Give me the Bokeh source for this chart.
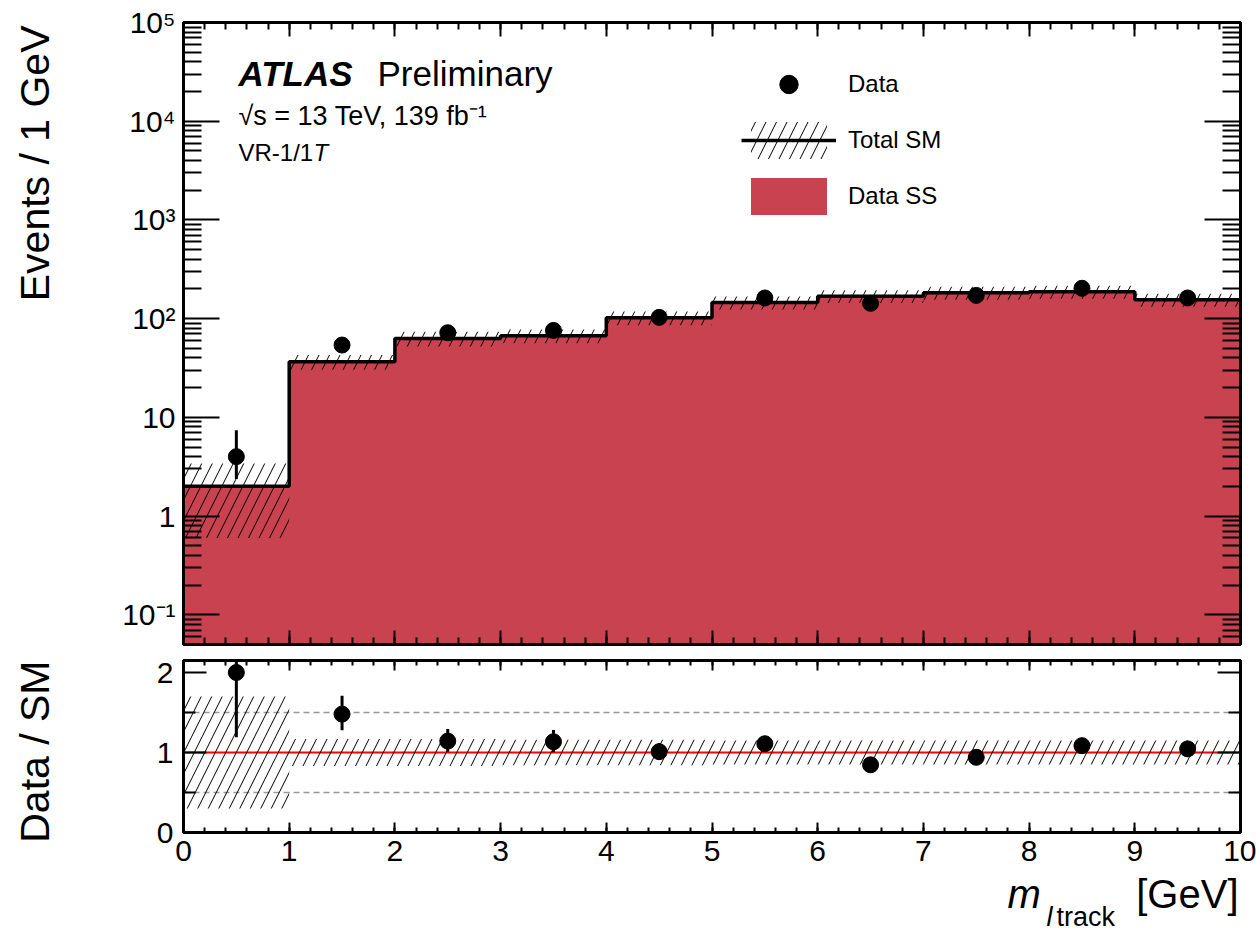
import math
from bokeh.plotting import figure
from bokeh.layouts import column, row
from bokeh.models import (FixedTicker, LinearAxis, LogAxis, Label, Legend, LegendItem,
                          CustomJSTickFormatter, Range1d, Span)
from bokeh.embed import file_html
from bokeh.resources import INLINE

# ---------------- data ----------------
bin_edges = [0, 1, 2, 3, 4, 5, 6, 7, 8, 9, 10]
bin_centers = [0.5, 1.5, 2.5, 3.5, 4.5, 5.5, 6.5, 7.5, 8.5, 9.5]
sm_total = [2.0, 36.5, 63.0, 67.0, 102.0, 146.0, 169.0, 183.0, 187.0, 155.0]
sm_rel_unc = [0.70, 0.17, 0.17, 0.16, 0.16, 0.15, 0.15, 0.15, 0.15, 0.15]
data_counts = [4, 54, 72, 76, 103, 162, 143, 172, 203, 162]
data_err_up = [3.4, 8.4, 9.5, 9.8, 11.2, 13.7, 13.0, 14.2, 15.3, 13.7]
data_err_dn = [1.62, 7.3, 8.4, 8.7, 10.1, 12.7, 11.9, 13.1, 14.3, 12.7]

y_major = [1e-1, 1.0, 10.0, 1e2, 1e3, 1e4, 1e5]
y_major_labels = ["10\u207b\u00b9", "1", "10", "10\u00b2", "10\u00b3", "10\u2074", "10\u2075"]
x_major = [0, 1, 2, 3, 4, 5, 6, 7, 8, 9, 10]
ratio_major = [0, 1, 2]
ratio_minor = [0.5, 1.5]
ratio_ref_dashed = [0.5, 1.5]
ratio_ref_unity = 1.0
hist_floor = 1e-3

# derived
x_minor = [i / 5 for i in range(0, 51)]
y_minor = [m * 10.0 ** e for e in range(-2, 5) for m in range(2, 10)]
step_x, step_y = [], []
for i, v in enumerate(sm_total):
    step_x += [bin_edges[i], bin_edges[i + 1]]
    step_y += [v, v]
fill_x = [bin_edges[0]] + step_x + [bin_edges[-1]]
fill_y = [hist_floor] + step_y + [hist_floor]
band_lo = [s * (1 - u) for s, u in zip(sm_total, sm_rel_unc)]
band_hi = [s * (1 + u) for s, u in zip(sm_total, sm_rel_unc)]
data_lo = [d - e for d, e in zip(data_counts, data_err_dn)]
data_hi = [d + e for d, e in zip(data_counts, data_err_up)]
ratio = [d / s for d, s in zip(data_counts, sm_total)]
ratio_lo = [r - e / s for r, e, s in zip(ratio, data_err_dn, sm_total)]
ratio_hi = [r + e / s for r, e, s in zip(ratio, data_err_up, sm_total)]
rband_lo = [1 - u for u in sm_rel_unc]
rband_hi = [1 + u for u in sm_rel_unc]

FONT = "Liberation Sans"
RED = "#c9424f"
HATCH = dict(fill_alpha=0, line_alpha=0, hatch_pattern="/", hatch_color="black",
             hatch_weight=1, hatch_scale=21)
STRIP_W = 70
LEFT = 183 - STRIP_W

empty_fmt = CustomJSTickFormatter(code="return ''")


def style_axis(ax, major_in, minor_in, labels=True, size="30px", standoff=8):
    ax.major_tick_in = major_in
    ax.major_tick_out = 0
    ax.minor_tick_in = minor_in
    ax.minor_tick_out = 0
    ax.axis_line_width = 3
    ax.major_tick_line_width = 2
    ax.minor_tick_line_width = 2
    ax.major_label_text_font = FONT
    ax.major_label_text_color = "black"
    if labels:
        ax.major_label_text_font_size = size
        ax.major_label_standoff = standoff
    else:
        ax.formatter = empty_fmt
        ax.major_label_text_font_size = "0px"
        ax.major_label_standoff = 0


def txt(x, y, text, size, style="normal", align="left", angle=0.0, baseline="bottom"):
    return Label(x=x, y=y, x_units="screen", y_units="screen", text=text,
                 text_font=FONT, text_font_style=style, text_font_size=size,
                 text_color="black", text_align=align, angle=angle,
                 text_baseline=baseline)


# ---------------- upper panel ----------------
p1 = figure(frame_width=1057, frame_height=622, x_range=Range1d(0, 10),
            y_range=Range1d(0.05, 1e5), y_axis_type="log",
            x_axis_location=None, y_axis_location=None,
            min_border_left=LEFT, min_border_right=16, min_border_top=22, min_border_bottom=8,
            output_backend="svg", toolbar_location=None)
p1.grid.grid_line_color = None
p1.outline_line_color = "black"
p1.outline_line_width = 3

ylog_fmt = CustomJSTickFormatter(args=dict(vals=y_major, labs=y_major_labels), code="""
let best = 0, bd = Infinity;
for (let i = 0; i < vals.length; i++) {
  const d = Math.abs(Math.log10(vals[i]) - Math.log10(tick));
  if (d < bd) { bd = d; best = i; }
}
return labs[best];
""")

ax = LogAxis(ticker=FixedTicker(ticks=y_major, minor_ticks=y_minor), formatter=ylog_fmt)
style_axis(ax, 36, 18, labels=True, standoff=8)
p1.add_layout(ax, "left")
ax = LogAxis(ticker=FixedTicker(ticks=y_major, minor_ticks=y_minor))
style_axis(ax, 36, 18, labels=False)
p1.add_layout(ax, "right")
ax = LinearAxis(ticker=FixedTicker(ticks=x_major, minor_ticks=x_minor))
style_axis(ax, 14, 7, labels=False)
p1.add_layout(ax, "below")
ax = LinearAxis(ticker=FixedTicker(ticks=x_major, minor_ticks=x_minor))
style_axis(ax, 14, 7, labels=False)
p1.add_layout(ax, "above")

r_fill = p1.patch(fill_x, fill_y, fill_color=RED, line_alpha=0)
r_band = p1.quad(left=bin_edges[:-1], right=bin_edges[1:], bottom=band_lo, top=band_hi, **HATCH)
r_step = p1.line(step_x, step_y, line_color="black", line_width=3.5)
p1.segment(x0=bin_centers, y0=data_lo, x1=bin_centers, y1=data_hi,
           line_color="black", line_width=3)
r_data = p1.scatter(bin_centers, data_counts, size=16, color="black")

legend = Legend(items=[LegendItem(label="Data", renderers=[r_data]),
                       LegendItem(label="Total SM", renderers=[r_band, r_step]),
                       LegendItem(label="Data SS", renderers=[r_fill])],
                location=(558, 425), glyph_width=95, glyph_height=46, spacing=10,
                label_standoff=12, padding=0, margin=0, border_line_alpha=0,
                background_fill_alpha=0, label_text_font=FONT,
                label_text_font_size="24px", label_text_color="black")
p1.add_layout(legend)

p1.add_layout(txt(55, 552, "ATLAS", "35px", "bold italic"))
p1.add_layout(txt(194, 552, "Preliminary", "35px"))
p1.add_layout(txt(55, 514, "\u221as = 13 TeV, 139 fb\u207b\u00b9", "27px"))
p1.add_layout(txt(55, 479, "VR-1/1", "24px"))
p1.add_layout(txt(130, 479, "T", "24px", "italic"))

# ---------------- ratio panel ----------------
p2 = figure(frame_width=1057, frame_height=172, x_range=p1.x_range,
            y_range=Range1d(0, 2.15), x_axis_location=None, y_axis_location=None,
            min_border_left=LEFT, min_border_right=16, min_border_top=8, min_border_bottom=45,
            output_backend="svg", toolbar_location=None)
p2.grid.grid_line_color = None
p2.outline_line_color = "black"
p2.outline_line_width = 3

ax = LinearAxis(ticker=FixedTicker(ticks=ratio_major, minor_ticks=ratio_minor))
style_axis(ax, 23, 12, labels=True, standoff=10)
p2.add_layout(ax, "left")
ax = LinearAxis(ticker=FixedTicker(ticks=ratio_major, minor_ticks=ratio_minor))
style_axis(ax, 23, 12, labels=False)
p2.add_layout(ax, "right")
ax = LinearAxis(ticker=FixedTicker(ticks=x_major, minor_ticks=x_minor))
style_axis(ax, 10, 5, labels=True, standoff=8)
p2.add_layout(ax, "below")
ax = LinearAxis(ticker=FixedTicker(ticks=x_major, minor_ticks=x_minor))
style_axis(ax, 10, 5, labels=False)
p2.add_layout(ax, "above")

for v in ratio_ref_dashed:
    p2.add_layout(Span(location=v, dimension="width", line_color="#999999",
                       line_width=1.5, line_dash="6 4", level="underlay"))
p2.add_layout(Span(location=ratio_ref_unity, dimension="width", line_color="red",
                   line_width=2, level="underlay"))
p2.quad(left=bin_edges[:-1], right=bin_edges[1:], bottom=rband_lo, top=rband_hi, **HATCH)
p2.segment(x0=bin_centers, y0=ratio_lo, x1=bin_centers, y1=ratio_hi,
           line_color="black", line_width=3)
p2.scatter(bin_centers, ratio, size=16, color="black")

# ---------------- x-axis title strip ----------------
p3 = figure(frame_width=1057, frame_height=58, x_range=p1.x_range, y_range=Range1d(0, 1),
            x_axis_location=None, y_axis_location=None,
            min_border_left=LEFT, min_border_right=16, min_border_top=0, min_border_bottom=0,
            output_backend="svg", toolbar_location=None)
p3.grid.grid_line_color = None
p3.outline_line_color = None
p3.add_layout(txt(824, 20, "m", "40px", "italic"))
p3.add_layout(txt(863, 4, "l", "27px", "italic"))
p3.add_layout(txt(873, 4, "track", "27px"))
p3.add_layout(txt(1055, 20, "[GeV]", "40px", align="right"))

# ---------------- y-axis title strip ----------------
p0 = figure(frame_width=STRIP_W, frame_height=935, x_range=Range1d(0, 1), y_range=Range1d(0, 1),
            x_axis_location=None, y_axis_location=None,
            min_border_left=0, min_border_right=0, min_border_top=0, min_border_bottom=0,
            output_backend="svg", toolbar_location=None)
p0.grid.grid_line_color = None
p0.outline_line_color = None
p0.add_layout(txt(34, 935 - 25, "Events / 1 GeV", "41px", align="right",
                  angle=math.pi / 2, baseline="alphabetic"))
p0.add_layout(txt(34, 935 - 660, "Data / SM", "41px", align="right",
                  angle=math.pi / 2, baseline="alphabetic"))

layout = row(p0, column(p1, p2, p3, spacing=0), spacing=0)
open("out.html", "w").write(file_html(layout, INLINE))
